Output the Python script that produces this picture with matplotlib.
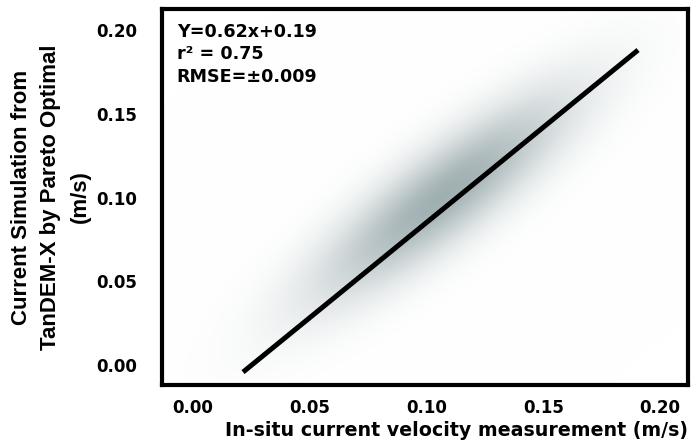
import numpy as np
import matplotlib
matplotlib.use("Agg")
import matplotlib.pyplot as plt

# fitted line end points (m/s)
fit_x = [0.0214, 0.1906]
fit_y = [-0.0042, 0.188]

# density cloud of the points: centre, spread along / across the fit (m/s)
cloud_centre = (0.107, 0.101)
cloud_spread_along = 0.054
cloud_spread_across = 0.015
cloud_color = (0.63, 0.69, 0.70)

x_ticks = [0.00, 0.05, 0.10, 0.15, 0.20]
y_ticks = [0.00, 0.05, 0.10, 0.15, 0.20]
stats_text = "Y=0.62x+0.19\nr\u00b2 = 0.75\nRMSE=\u00b10.009"

plt.rcParams['font.family'] = ['DejaVu Sans']
plt.rcParams['font.weight'] = 'bold'

fig = plt.figure(figsize=(6.93, 4.47), dpi=100)
ax = fig.add_axes([162/693, 62/447, 526/693, 376/447])
xlim = (-0.0133, 0.212)
ylim = (-0.0119, 0.2125)

# density cloud
gx = np.linspace(xlim[0], xlim[1], 400)
gy = np.linspace(ylim[0], ylim[1], 300)
GX, GY = np.meshgrid(gx, gy)
ang = np.arctan2(fit_y[1] - fit_y[0], fit_x[1] - fit_x[0])
dx = GX - cloud_centre[0]
dy = GY - cloud_centre[1]
a = dx*np.cos(ang) + dy*np.sin(ang)
c = -dx*np.sin(ang) + dy*np.cos(ang)
dens = np.exp(-0.5*((a/cloud_spread_along)**2 + (c/cloud_spread_across)**2))
img = np.ones(GX.shape + (3,))
for k in range(3):
    img[..., k] = 1 - dens*(1 - cloud_color[k])
ax.imshow(img, extent=(xlim[0], xlim[1], ylim[0], ylim[1]), origin='lower',
          aspect='auto', interpolation='bilinear', zorder=0)

ax.plot(fit_x, fit_y, color='black', lw=3.6, solid_capstyle='butt', zorder=2)

ax.set_xlim(xlim)
ax.set_ylim(ylim)
ax.set_xticks(x_ticks)
ax.set_yticks(y_ticks)
ax.set_xticklabels([f"{v:.2f}" for v in x_ticks], fontsize=12, fontweight='bold')
ax.set_yticklabels([f"{v:.2f}" for v in y_ticks], fontsize=12, fontweight='bold')
ax.tick_params(axis='x', length=0, pad=10)
ax.tick_params(axis='y', length=0, pad=18)
for s in ax.spines.values():
    s.set_linewidth(3)

ax.set_xlabel("In-situ current velocity measurement (m/s)", fontsize=13.7,
              fontweight='bold', labelpad=3, loc='right')
ax.set_ylabel("Current Simulation from\nTanDEM-X by Pareto Optimal\n(m/s)",
              fontsize=16, fontweight='bold', labelpad=4, linespacing=1.5,
              family=['Liberation Sans', 'DejaVu Sans'])

ax.text(0.028, 0.962, stats_text, transform=ax.transAxes, fontsize=12.6,
        fontweight='bold', va='top', ha='left', linespacing=1.3)

fig.savefig("out.png", dpi=100)
